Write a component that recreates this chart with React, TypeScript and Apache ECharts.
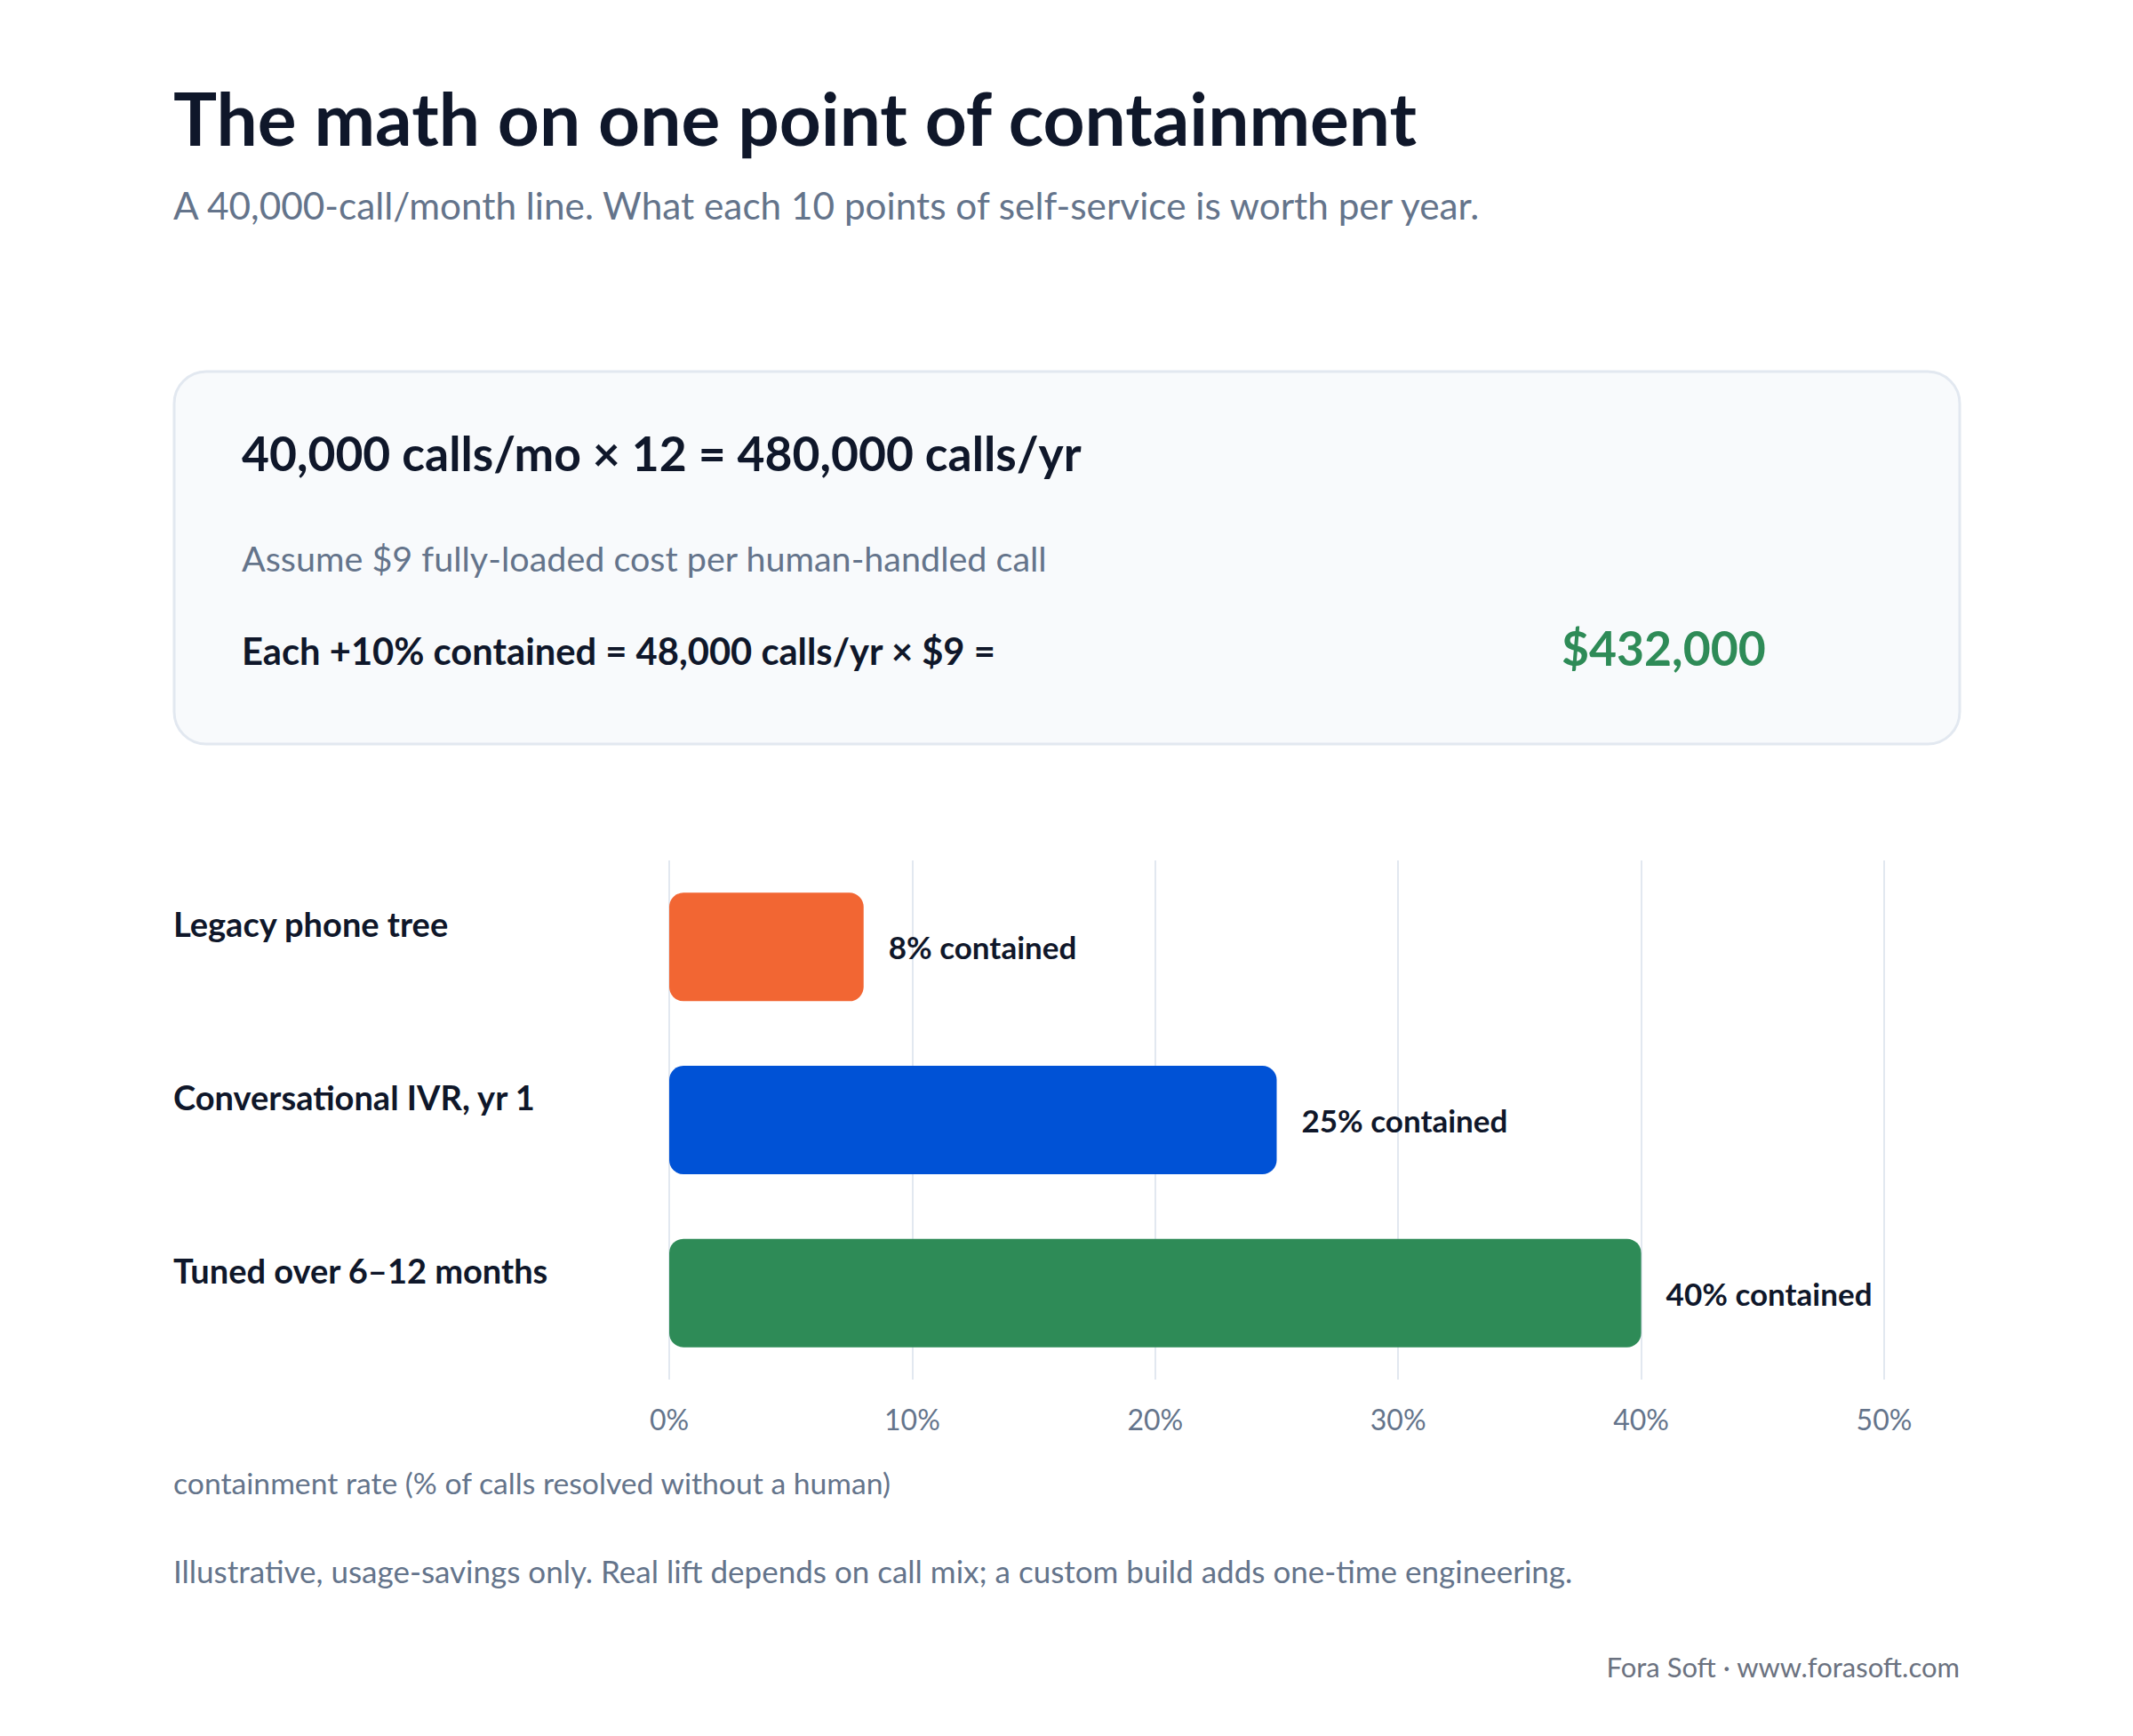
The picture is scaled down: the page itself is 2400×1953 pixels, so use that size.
import React, { useEffect, useRef } from 'react';
import * as echarts from 'echarts';

const categories = ['Legacy phone tree', 'Conversational IVR, yr 1', 'Tuned over 6–12 months'];
const containment = [8, 25, 40];
const barColors = ['#F26633', '#0052D6', '#2E8B57'];
const axisMin = 0;
const axisMax = 50;
const axisStep = 10;

const titleText = 'The math on one point of containment';
const subtitleText = 'A 40,000-call/month line. What each 10 points of self-service is worth per year.';
const cardLine1 = '40,000 calls/mo × 12 = 480,000 calls/yr';
const cardLine2 = 'Assume $9 fully-loaded cost per human-handled call';
const cardLine3 = 'Each +10% contained = 48,000 calls/yr × $9 =';
const cardValue = '$432,000';
const axisTitle = 'containment rate (% of calls resolved without a human)';
const footnote = 'Illustrative, usage-savings only. Real lift depends on call mix; a custom build adds one-time engineering.';
const credit = 'Fora Soft · www.forasoft.com';

const FONT = 'Lato, "Noto Sans", sans-serif';
const DARK = '#0F172A';
const SLATE = '#64748B';

export default function App() {
  const ref = useRef<HTMLDivElement>(null);
  useEffect(() => {
    if (!ref.current) return;
    const chart = echarts.init(ref.current, undefined, { renderer: 'svg' });
    const option: any = {
      animation: false,
      backgroundColor: '#FFFFFF',
      textStyle: { fontFamily: FONT },
      graphic: [
        {
          type: 'text', x: 195, y: 132,
          style: { text: titleText, fontFamily: FONT, fontSize: 82, fontWeight: 'bold', fill: DARK, align: 'left', verticalAlign: 'middle' },
        },
        {
          type: 'text', x: 195, y: 230,
          style: { text: subtitleText, fontFamily: FONT, fontSize: 42.3, fill: SLATE, align: 'left', verticalAlign: 'middle' },
        },
        {
          type: 'rect', x: 196, y: 418,
          shape: { x: 0, y: 0, width: 2009, height: 419, r: 36 },
          style: { fill: '#F8FAFC', stroke: '#E2E8F0', lineWidth: 3 },
        },
        {
          type: 'text', x: 272, y: 509,
          style: { text: cardLine1, fontFamily: FONT, fontSize: 53.4, fontWeight: 'bold', fill: DARK, align: 'left', verticalAlign: 'middle' },
        },
        {
          type: 'text', x: 272, y: 627,
          style: { text: cardLine2, fontFamily: FONT, fontSize: 39.5, fill: SLATE, align: 'left', verticalAlign: 'middle' },
        },
        {
          type: 'text', x: 272, y: 732,
          style: { text: cardLine3, fontFamily: FONT, fontSize: 41.7, fontWeight: 'bold', fill: DARK, align: 'left', verticalAlign: 'middle' },
        },
        {
          type: 'text', x: 1757, y: 728,
          style: { text: cardValue, fontFamily: FONT, fontSize: 53.5, fontWeight: 'bold', fill: '#2E8B57', align: 'left', verticalAlign: 'middle' },
        },
        {
          type: 'text', x: 195, y: 1668,
          style: { text: axisTitle, fontFamily: FONT, fontSize: 33.7, fill: SLATE, align: 'left', verticalAlign: 'middle' },
        },
        {
          type: 'text', x: 195, y: 1767,
          style: { text: footnote, fontFamily: FONT, fontSize: 35, fill: SLATE, align: 'left', verticalAlign: 'middle' },
        },
        {
          type: 'text', x: 2205, y: 1875,
          style: { text: credit, fontFamily: FONT, fontSize: 31, fill: '#6B7280', align: 'right', verticalAlign: 'middle' },
        },
      ],
      grid: { left: 753, right: 280, top: 968, height: 584, containLabel: false },
      xAxis: {
        type: 'value',
        min: axisMin,
        max: axisMax,
        interval: axisStep,
        axisLine: { show: false },
        axisTick: { show: false },
        splitLine: { show: true, lineStyle: { color: '#E2E8F0', width: 2 } },
        axisLabel: {
          formatter: '{value}%',
          fontFamily: FONT,
          fontSize: 32,
          color: SLATE,
          margin: 28,
        },
      },
      yAxis: {
        type: 'category',
        inverse: true,
        data: categories,
        axisLine: { show: false },
        axisTick: { show: false },
        splitLine: { show: false },
        axisLabel: {
          align: 'left',
          verticalAlign: 'bottom',
          lineHeight: 52,
          margin: 558,
          fontFamily: FONT,
          fontSize: 38,
          fontWeight: 'bold',
          color: DARK,
        },
      },
      series: [
        {
          type: 'bar',
          barWidth: 122,
          data: containment.map((v, i) => ({ value: v, itemStyle: { color: barColors[i] } })),
          itemStyle: { borderRadius: 16 },
          label: {
            show: true,
            position: 'right',
            distance: 28,
            formatter: (p: any) => `${p.value}% contained`,
            fontFamily: FONT,
            fontSize: 35,
            fontWeight: 'bold',
            color: DARK,
          },
        },
      ],
    };
    chart.setOption(option);
    return () => chart.dispose();
  }, []);
  return (
    <div
      ref={ref}
      style={{ position: 'absolute', left: 0, top: 0, width: 2400, height: 1953, background: '#FFFFFF' }}
    />
  );
}
